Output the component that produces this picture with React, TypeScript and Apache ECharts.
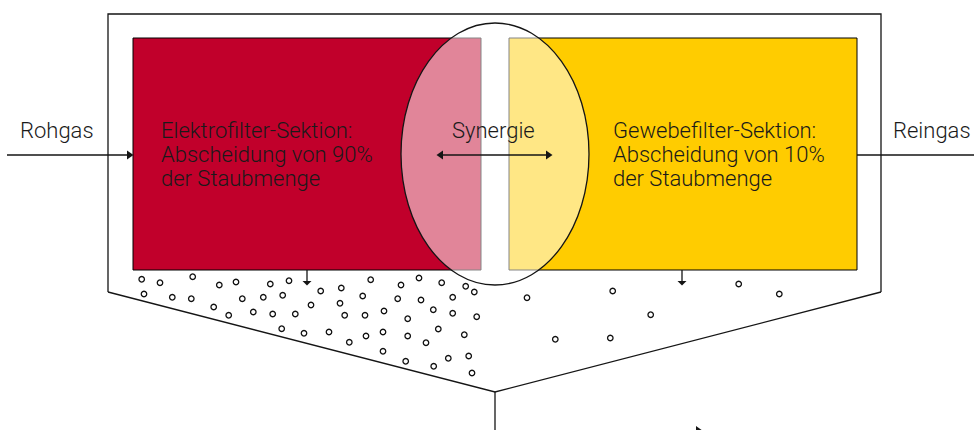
import React, { useEffect, useRef } from "react";
import * as echarts from "echarts";

// Dust particles (x, y in page pixels)
const dotX = [141.7, 160, 192.7, 219.3, 236, 270.3, 289, 320.7, 341.3, 370.7, 401, 419, 441.7, 465.7, 474.3, 527,
  144, 172.3, 191.3, 242.3, 263.3, 282.7, 213.7, 228.7, 253.3, 272.7, 295.3, 311, 340, 362.7, 397.7, 421, 452.7,
  344.7, 365, 384, 407.7, 433.3, 452.7, 476.7, 281.7, 304, 329, 349.3, 366, 383, 407.7, 426, 438.3, 464.3,
  383, 405.7, 433.7, 448.3, 468.7, 472,
  612.7, 738.7, 779.3, 650.7, 555.3, 610.3];
const dotY = [279.3, 282.7, 276.7, 285, 282, 284, 280.7, 291, 288, 279.7, 285, 278, 282.7, 286.3, 292, 297.7,
  294, 297.3, 298.7, 298.7, 297.3, 295.3, 307, 315.3, 312, 314, 314, 305, 303.3, 296, 298.7, 300, 297.3,
  315.3, 315.3, 311, 318.7, 309.7, 313.3, 316.7, 328.7, 333.3, 332, 342.3, 336, 332, 336, 342.7, 329, 334.7,
  351.3, 361.3, 366.3, 358.3, 356, 373,
  291, 284, 294, 314.7, 339.3, 338];

const leftLabel = ["Elektrofilter-Sektion:", "Abscheidung von 90%", "der Staubmenge"];
const rightLabel = ["Gewebefilter-Sektion:", "Abscheidung von 10%", "der Staubmenge"];
const inLabel = "Rohgas";
const outLabel = "Reingas";
const midLabel = "Synergie";

const FONT = "Roboto, 'Liberation Sans', sans-serif";
const TXT = "#1a1a1a";
const LINE = "#151515";

export default function App() {
  const ref = useRef<HTMLDivElement>(null);
  useEffect(() => {
    document.body.style.margin = "0";
    const chart = echarts.init(ref.current!, null, { renderer: "svg" });
    const txt = (text: string, x: number, y: number, extra: any = {}) => ({
      type: "text",
      z: 20,
      style: {
        text, x, y, fill: TXT, fontSize: 22, fontWeight: 300, fontFamily: FONT,
        lineHeight: 24, verticalAlign: "top", ...extra,
      },
    });
    const line = (x1: number, y1: number, x2: number, y2: number, z = 15) => ({
      type: "line", z, shape: { x1, y1, x2, y2 }, style: { stroke: LINE, lineWidth: 1.3 },
    });
    const tri = (pts: number[][]) => ({ type: "polygon", z: 16, shape: { points: pts }, style: { fill: LINE } });
    const option: any = {
      animation: false,
      grid: { left: 0, right: 0, top: 0, bottom: 0, containLabel: false },
      xAxis: { type: "value", min: 0, max: 974, show: false },
      yAxis: { type: "value", min: 0, max: 430, inverse: true, show: false },
      graphic: [
        // housing
        { type: "polyline", z: 5, shape: { points: [[108, 292], [108, 14], [881, 14], [881, 292]] }, style: { stroke: LINE, lineWidth: 1.3, fill: null } },
        { type: "polyline", z: 5, shape: { points: [[108, 292], [495, 392], [881, 292]] }, style: { stroke: LINE, lineWidth: 1.3, fill: null } },
        line(495, 392, 495, 440, 5),
        tri([[696, 426], [703, 431], [696, 436]]),
        // sections
        { type: "rect", z: 8, shape: { x: 133, y: 38, width: 348, height: 232 }, style: { fill: "#C1002B", stroke: "#000", lineWidth: 1 } },
        { type: "rect", z: 8, shape: { x: 509, y: 38, width: 348, height: 232 }, style: { fill: "#FFCC00", stroke: "#000", lineWidth: 1 } },
        // synergy ellipse
        { type: "ellipse", z: 10, shape: { cx: 495, cy: 154, rx: 94, ry: 131 }, style: { fill: "rgba(255,255,255,0.52)", stroke: LINE, lineWidth: 1.3 } },
        // gas in / out
        line(7, 155, 128, 155),
        tri([[127, 150.5], [133.5, 155], [127, 159.5]]),
        line(857, 155, 974, 155),
        // synergy arrow
        line(442, 155, 547, 155),
        tri([[443, 150.5], [436.5, 155], [443, 159.5]]),
        tri([[546, 150.5], [552.5, 155], [546, 159.5]]),
        // down arrows
        line(307, 270, 307, 282),
        tri([[302.5, 281], [311.5, 281], [307, 285.5]]),
        line(682, 270, 682, 282),
        tri([[677.5, 281], [686.5, 281], [682, 285.5]]),
        // texts
        txt(inLabel, 20, 118),
        txt(outLabel, 893, 118),
        txt(midLabel, 452, 118),
        txt(leftLabel.join("\n"), 161, 118),
        txt(rightLabel.join("\n"), 613, 118),
      ],
      series: [
        {
          type: "scatter",
          z: 30,
          silent: true,
          symbol: "circle",
          symbolSize: 5.5,
          itemStyle: { color: "#fff", borderColor: "#111", borderWidth: 1.3, opacity: 1 },
          data: dotX.map((x, i) => [x, dotY[i]]),
        },
      ],
    };
    chart.setOption(option);
    return () => chart.dispose();
  }, []);
  return <div ref={ref} style={{ width: 974, height: 430 }} />;
}
